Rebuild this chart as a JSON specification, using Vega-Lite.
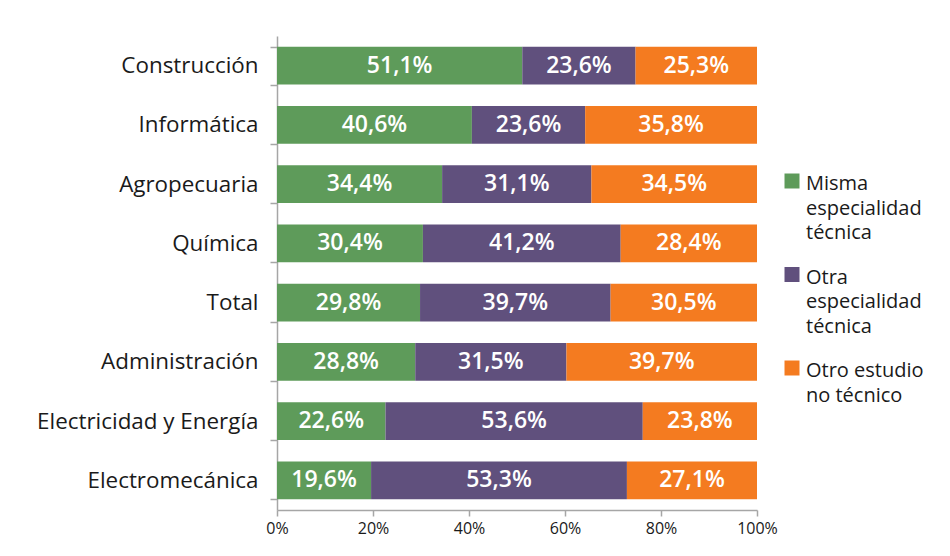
{
  "$schema": "https://vega.github.io/schema/vega-lite/v6.json",
  "width": 480,
  "height": 474,
  "autosize": {"type": "none"},
  "padding": {"left": 277, "top": 36, "right": 193, "bottom": 46},
  "background": "white",
  "data": {
    "values": [
      {"cat": "Construcción", "tipo": "Misma especialidad técnica", "v": 51.1},
      {"cat": "Construcción", "tipo": "Otra especialidad técnica", "v": 23.6},
      {"cat": "Construcción", "tipo": "Otro estudio no técnico", "v": 25.3},
      {"cat": "Informática", "tipo": "Misma especialidad técnica", "v": 40.6},
      {"cat": "Informática", "tipo": "Otra especialidad técnica", "v": 23.6},
      {"cat": "Informática", "tipo": "Otro estudio no técnico", "v": 35.8},
      {"cat": "Agropecuaria", "tipo": "Misma especialidad técnica", "v": 34.4},
      {"cat": "Agropecuaria", "tipo": "Otra especialidad técnica", "v": 31.1},
      {"cat": "Agropecuaria", "tipo": "Otro estudio no técnico", "v": 34.5},
      {"cat": "Química", "tipo": "Misma especialidad técnica", "v": 30.4},
      {"cat": "Química", "tipo": "Otra especialidad técnica", "v": 41.2},
      {"cat": "Química", "tipo": "Otro estudio no técnico", "v": 28.4},
      {"cat": "Total", "tipo": "Misma especialidad técnica", "v": 29.8},
      {"cat": "Total", "tipo": "Otra especialidad técnica", "v": 39.7},
      {"cat": "Total", "tipo": "Otro estudio no técnico", "v": 30.5},
      {"cat": "Administración", "tipo": "Misma especialidad técnica", "v": 28.8},
      {"cat": "Administración", "tipo": "Otra especialidad técnica", "v": 31.5},
      {"cat": "Administración", "tipo": "Otro estudio no técnico", "v": 39.7},
      {"cat": "Electricidad y Energía", "tipo": "Misma especialidad técnica", "v": 22.6},
      {"cat": "Electricidad y Energía", "tipo": "Otra especialidad técnica", "v": 53.6},
      {"cat": "Electricidad y Energía", "tipo": "Otro estudio no técnico", "v": 23.8},
      {"cat": "Electromecánica", "tipo": "Misma especialidad técnica", "v": 19.6},
      {"cat": "Electromecánica", "tipo": "Otra especialidad técnica", "v": 53.3},
      {"cat": "Electromecánica", "tipo": "Otro estudio no técnico", "v": 27.1}
    ]
  },
  "transform": [
    {"calculate": "datum.tipo == 'Misma especialidad técnica' ? 0 : datum.tipo == 'Otra especialidad técnica' ? 1 : 2", "as": "ord"},
    {"stack": "v", "groupby": ["cat"], "sort": [{"field": "ord", "order": "ascending"}], "as": ["x0", "x1"]},
    {"calculate": "(datum.x0 + datum.x1) / 2", "as": "xm"},
    {"calculate": "replace(format(datum.v, '.1f'), '.', ',') + '%'", "as": "lab"}
  ],
  "encoding": {
    "y": {
      "field": "cat",
      "type": "nominal",
      "sort": ["Construcción", "Informática", "Agropecuaria", "Química", "Total", "Administración", "Electricidad y Energía", "Electromecánica"],
      "scale": {"paddingInner": 0.36, "paddingOuter": 0.18},
      "axis": {
        "title": null,
        "tickBand": "extent",
        "tickSize": 7,
        "tickColor": "#A6A6A6",
        "tickWidth": 1.5,
        "domainColor": "#A6A6A6",
        "domainWidth": 1.5,
        "labelFont": "Open Sans",
        "labelFontSize": 22.4,
        "labelColor": "#1a1a1a",
        "labelPadding": 12,
        "labelLimit": 300
      }
    }
  },
  "layer": [
    {
      "mark": {"type": "bar"},
      "encoding": {
        "x": {
          "field": "x0",
          "type": "quantitative",
          "scale": {"domain": [0, 100], "nice": false},
          "axis": {
            "title": null,
            "values": [0, 20, 40, 60, 80, 100],
            "labelExpr": "datum.value + '%'",
            "grid": false,
            "tickSize": 6,
            "tickColor": "#A6A6A6",
            "tickWidth": 1.5,
            "domainColor": "#A6A6A6",
            "domainWidth": 1.5,
            "labelFont": "Open Sans",
            "labelFontSize": 16,
            "labelColor": "#1a1a1a",
            "labelPadding": 4,
            "labelFlush": false
          }
        },
        "x2": {"field": "x1"},
        "color": {
          "field": "tipo",
          "type": "nominal",
          "scale": {
            "domain": ["Misma especialidad técnica", "Otra especialidad técnica", "Otro estudio no técnico"],
            "range": ["#5E9B5A", "#60507D", "#F47B20"]
          },
          "legend": {
            "title": null,
            "orient": "none",
            "legendX": 505,
            "legendY": 135,
            "symbolType": "square",
            "symbolSize": 225,
            "symbolStrokeWidth": 0,
            "symbolOpacity": 1,
            "labelFont": "Open Sans",
            "labelFontSize": 20,
            "labelColor": "#1a1a1a",
            "labelOffset": 4,
            "labelBaseline": "top",
            "labelLimit": 200,
            "rowPadding": 21.5,
            "labelExpr": "datum.label == 'Misma especialidad técnica' ? ['Misma', 'especialidad', 'técnica'] : datum.label == 'Otra especialidad técnica' ? ['Otra', 'especialidad', 'técnica'] : ['Otro estudio', 'no técnico']",
            "encode": {"labels": {"update": {"dy": {"value": -7}}}}
          }
        }
      }
    },
    {
      "mark": {"type": "text", "font": "Open Sans", "fontSize": 23, "fontWeight": 600, "color": "white", "baseline": "middle", "align": "center"},
      "encoding": {
        "x": {"field": "xm", "type": "quantitative"},
        "text": {"field": "lab"}
      }
    }
  ],
  "config": {
    "view": {"stroke": null},
    "style": {"guide-label": {"lineHeight": 24.5}}
  }
}
